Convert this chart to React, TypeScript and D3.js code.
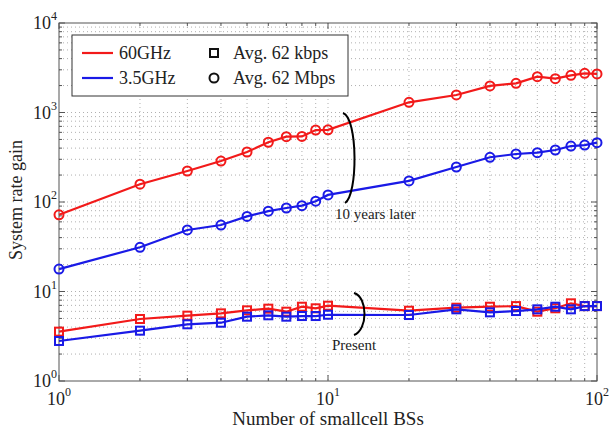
import React from 'react';
import * as d3 from 'd3';

const xs = [1, 2, 3, 4, 5, 6, 7, 8, 9, 10, 20, 30, 40, 50, 60, 70, 80, 90, 100];
const ghz60Future = [72, 158, 222, 287, 362, 465, 537, 540, 637, 640, 1300, 1570, 1980, 2120, 2510, 2390, 2600, 2740, 2700];
const ghz35Future = [17.8, 31.2, 48.7, 55.3, 69, 79, 85.7, 91, 102, 120, 172, 246, 316, 344, 356, 381, 422, 433, 460];
const ghz60Present = [3.56, 4.93, 5.37, 5.7, 6.16, 6.43, 5.95, 6.76, 6.49, 6.94, 6.1, 6.59, 6.76, 6.87, 5.95, 6.49, 7.38, 6.87, 6.87];
const ghz35Present = [2.8, 3.65, 4.3, 4.48, 5.23, 5.42, 5.23, 5.32, 5.32, 5.5, 5.46, 6.32, 5.85, 6.05, 6.32, 6.76, 6.32, 6.87, 6.87];
const xDecades = [0, 1, 2];
const yDecades = [0, 1, 2, 3, 4];
const legendLines = ['60GHz', '3.5GHz'];
const legendMarkers = ['Avg. 62 kbps', 'Avg. 62 Mbps'];

const RED = '#f21a1a';
const BLUE = '#1a1ae6';
const FONT = "'Liberation Serif', 'Times New Roman', Times, serif";

const L = 59, R = 597, T = 23, B = 381;

export default function App() {
  const x = d3.scaleLog().domain([1, 100]).range([L, R]);
  const y = d3.scaleLog().domain([1, 10000]).range([B, T]);
  const line = d3.line<number>().x((_, i) => x(xs[i])).y((d) => y(d));

  const xMinor: number[] = [];
  for (let d = 0; d < 2; d++) for (let k = 2; k <= 9; k++) xMinor.push(k * Math.pow(10, d));
  const yMinor: number[] = [];
  for (let d = 0; d < 4; d++) for (let k = 2; k <= 9; k++) yMinor.push(k * Math.pow(10, d));
  const xMajor = xDecades.map((e) => Math.pow(10, e));
  const yMajor = yDecades.map((e) => Math.pow(10, e));

  const series = [
    { data: ghz60Future, color: RED, marker: 'circle' },
    { data: ghz35Future, color: BLUE, marker: 'circle' },
    { data: ghz60Present, color: RED, marker: 'square' },
    { data: ghz35Present, color: BLUE, marker: 'square' },
  ];

  const grid = '#b0b0b0';
  const axisColor = '#555';
  const txt = { fontFamily: FONT };

  return (
    <svg width={609} height={428} style={{ position: 'absolute', left: 0, top: 0, background: '#fff', fontFamily: FONT }}>
      <rect x={0} y={0} width={609} height={428} fill="#fff" />
      {[...xMinor, ...xMajor.slice(1, -1)].map((v, i) => (
        <line key={'gx' + i} x1={x(v)} x2={x(v)} y1={T} y2={B} stroke={grid} strokeWidth={1} strokeDasharray="1,3" />
      ))}
      {[...yMinor, ...yMajor.slice(1, -1)].map((v, i) => (
        <line key={'gy' + i} x1={L} x2={R} y1={y(v)} y2={y(v)} stroke={grid} strokeWidth={1} strokeDasharray="1,3" />
      ))}
      {xMinor.map((v, i) => (
        <g key={'tx' + i} stroke={axisColor}>
          <line x1={x(v)} x2={x(v)} y1={B} y2={B - 3} />
          <line x1={x(v)} x2={x(v)} y1={T} y2={T + 3} />
        </g>
      ))}
      {xMajor.map((v, i) => (
        <g key={'tX' + i} stroke={axisColor}>
          <line x1={x(v)} x2={x(v)} y1={B} y2={B - 6} />
          <line x1={x(v)} x2={x(v)} y1={T} y2={T + 6} />
        </g>
      ))}
      {yMinor.map((v, i) => (
        <g key={'ty' + i} stroke={axisColor}>
          <line x1={L} x2={L + 3} y1={y(v)} y2={y(v)} />
          <line x1={R} x2={R - 3} y1={y(v)} y2={y(v)} />
        </g>
      ))}
      {yMajor.map((v, i) => (
        <g key={'tY' + i} stroke={axisColor}>
          <line x1={L} x2={L + 6} y1={y(v)} y2={y(v)} />
          <line x1={R} x2={R - 6} y1={y(v)} y2={y(v)} />
        </g>
      ))}
      <rect x={L} y={T} width={R - L} height={B - T} fill="none" stroke={axisColor} strokeWidth={1} />
      {xDecades.map((e) => (
        <text key={'lx' + e} x={x(Math.pow(10, e)) - 12} y={405} fontSize={18} fill="#222" style={txt}>
          10<tspan dy={-9} fontSize={12}>{e}</tspan>
        </text>
      ))}
      {yDecades.map((e) => (
        <text key={'ly' + e} x={33} y={y(Math.pow(10, e)) + 6} fontSize={18} fill="#222" style={txt}>
          10<tspan dy={-9} fontSize={12}>{e}</tspan>
        </text>
      ))}
      {series.map((s, si) => (
        <g key={'s' + si}>
          <path d={line(s.data) || ''} fill="none" stroke={s.color} strokeWidth={2.2} />
          {s.data.map((v, i) =>
            s.marker === 'circle' ? (
              <circle key={i} cx={x(xs[i])} cy={y(v)} r={4.5} fill="none" stroke={s.color} strokeWidth={2} />
            ) : (
              <rect key={i} x={x(xs[i]) - 4} y={y(v) - 4} width={8} height={8} fill="none" stroke={s.color} strokeWidth={2} />
            )
          )}
        </g>
      ))}
      <path d="M 343 113 C 358 118, 358 195, 345 203" fill="none" stroke="#000" strokeWidth={2} />
      <text x={335} y={219} fontSize={15} fill="#222" style={txt}>10 years later</text>
      <path d="M 354 293 C 368 297, 368 330, 354 335" fill="none" stroke="#000" strokeWidth={2} />
      <text x={332} y={350} fontSize={15} fill="#222" style={txt}>Present</text>
      <rect x={72} y={35} width={276} height={61} fill="#fff" stroke="#333" strokeWidth={1} />
      {legendLines.map((t, i) => (
        <g key={'ll' + i}>
          <line x1={82} x2={113} y1={53 + i * 25} y2={53 + i * 25} stroke={i === 0 ? RED : BLUE} strokeWidth={2.2} />
          <text x={119} y={59 + i * 25} fontSize={18} fill="#222" style={txt}>{t}</text>
        </g>
      ))}
      {legendMarkers.map((t, i) => (
        <g key={'lm' + i}>
          {i === 0 ? (
            <rect x={210} y={49} width={8} height={8} fill="none" stroke="#111" strokeWidth={2} />
          ) : (
            <circle cx={214} cy={78} r={4.5} fill="none" stroke="#111" strokeWidth={2} />
          )}
          <text x={233} y={59 + i * 25} fontSize={18} fill="#222" style={txt}>{t}</text>
        </g>
      ))}
      <text x={328} y={425} fontSize={19} textAnchor="middle" fill="#222" style={txt}>Number of smallcell BSs</text>
      <text transform="translate(22,200) rotate(-90)" fontSize={18} textAnchor="middle" fill="#222" style={txt}>System rate gain</text>
    </svg>
  );
}
